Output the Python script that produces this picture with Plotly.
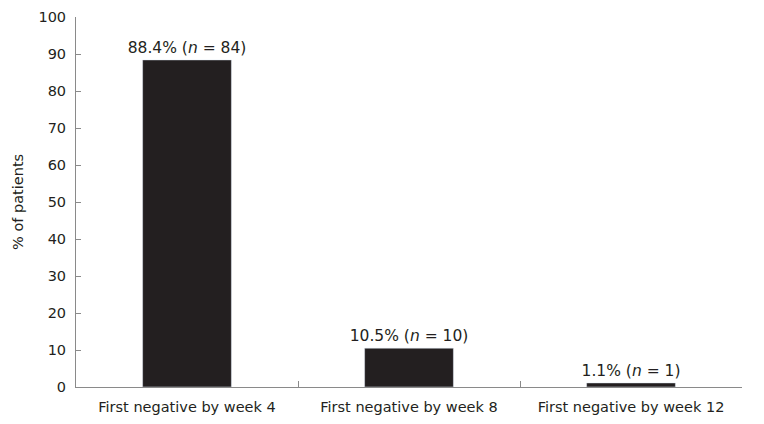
import plotly.graph_objects as go

# Data
categories = ["First negative by week 4", "First negative by week 8", "First negative by week 12"]
percent = [88.4, 10.5, 1.1]
counts = [84, 10, 1]

labels = [f"{p}% (<i>n</i> = {n})" for p, n in zip(percent, counts)]

fig = go.Figure(go.Bar(
    x=categories,
    y=percent,
    text=labels,
    texttemplate="%{text}",
    textposition="outside",
    constraintext="none",
    cliponaxis=False,
    marker_color="#231f20",
    width=0.4,
    textfont=dict(size=15.5, color="#231f20"),
))

# page body has an 8px margin, so the figure is a bit smaller than the window
fig.update_layout(
    width=756,
    height=416,
    margin=dict(l=68, r=22, t=9, b=37),
    plot_bgcolor="white",
    paper_bgcolor="white",
    font=dict(family="DejaVu Sans", size=14.5, color="#231f20"),
    showlegend=False,
    bargap=0.6,
)

fig.update_xaxes(
    automargin=False,
    showline=True, linecolor="#8a8a8a", linewidth=1,
    ticks="inside", tickson="boundaries", ticklen=6, tickcolor="#8a8a8a",
    ticklabelstandoff=7,
    showgrid=False,
)
fig.update_yaxes(
    automargin=False,
    range=[0, 100], dtick=10,
    showline=True, linecolor="#8a8a8a", linewidth=1,
    ticks="inside", ticklen=5, tickcolor="#8a8a8a",
    ticklabelstandoff=6,
    showgrid=False, zeroline=False,
)

# y-axis title placed as an annotation so the plot area stays put
fig.add_annotation(
    text="% of patients", textangle=-90,
    xref="paper", yref="paper", x=0, y=0.5,
    xanchor="center", yanchor="middle", xshift=-58,
    showarrow=False, font=dict(size=14.5),
)

fig.write_html("out.html")
